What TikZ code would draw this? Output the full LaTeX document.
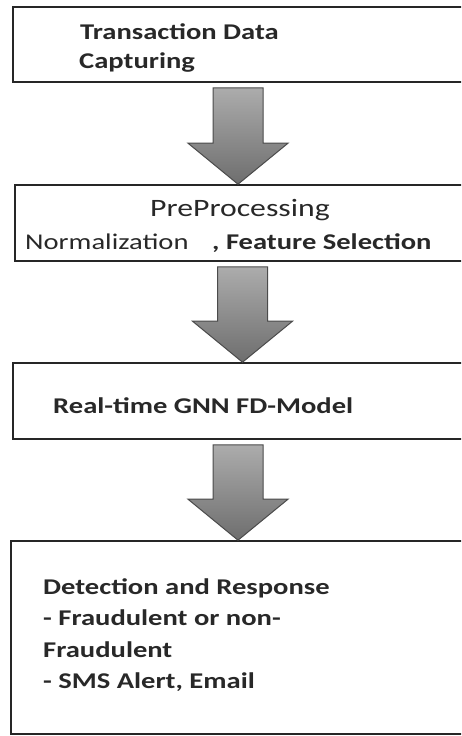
\documentclass[tikz,border=0pt]{standalone}
\usepackage{fontspec}
\setmainfont{Carlito}[FakeStretch=1.27]
\usetikzlibrary{calc}
\definecolor{arrowtop}{RGB}{172,172,172}
\definecolor{arrowbottom}{RGB}{110,110,110}
\definecolor{arrowline}{RGB}{75,75,75}
\definecolor{inktext}{RGB}{40,40,40}

% block arrow from one stage box down to the next (third argument: x shift)
\newcommand{\flowarrow}[3]{%
	\coordinate (top) at ($(#1.south)+(#3,5)$);
	\coordinate (tip) at (top |- #2.north);
	\path[arrowBody] ($(top)+(-25,0)$) -- ($(top)+(25,0)$) -- ($(tip)+(25,-41)$)
		-- ($(tip)+(50,-41)$) -- (tip) -- ($(tip)+(-50,-41)$) -- ($(tip)+(-25,-41)$) -- cycle;
}

\begin{document}
\begin{tikzpicture}[x=1pt, y=-1pt]
	\tikzstyle{stageBox}=[draw=black!85, line width=1.6pt, inner sep=0pt]
	\tikzstyle{stageText}=[anchor=base west, inner sep=0pt, text=inktext, font=\fontsize{22.5}{28}\selectfont\bfseries]
	\tikzstyle{plainText}=[stageText, font=\fontsize{22.5}{28}\selectfont]
	\tikzstyle{arrowBody}=[draw=arrowline, line width=1pt, top color=arrowtop, bottom color=arrowbottom]
	\useasboundingbox (0,0) rectangle (461,736);
	\clip (0,0) rectangle (461,736);
	% stage boxes
	\node[stageBox, minimum width=453pt, minimum height=75pt] (capture) at (239.5,44.5) {};
	\node[stageBox, minimum width=451pt, minimum height=76pt] (preproc) at (240.5,223) {};
	\node[stageBox, minimum width=453pt, minimum height=76pt] (model) at (239.5,401) {};
	\node[stageBox, minimum width=455pt, minimum height=193pt] (detect) at (238.5,637.5) {};
	% texts
	\node[stageText] (captureA) at (80,39) {Transaction Data};
	\node[stageText] (captureB) at (79,68) {Capturing};
	\node[plainText, font=\fontsize{25}{30}\selectfont] (preprocA) at (150,216) {PreProcessing};
	\node[plainText] (preprocB) at (25,249) {Normalization};
	\node[stageText] (preprocC) at (212,249) {, Feature Selection};
	\node[stageText] (modelA) at (53,413) {Real-time GNN FD-Model};
	\node[stageText] (detectA) at (43,594) {Detection and Response};
	\node[stageText] (detectB) at (43,625) {- Fraudulent or non-};
	\node[stageText] (detectC) at (43,657) {Fraudulent};
	\node[stageText] (detectD) at (43,688) {- SMS Alert, Email};
	% arrows
	\flowarrow{capture}{preproc}{-1.5}
	\flowarrow{preproc}{model}{2}
	\flowarrow{model}{detect}{-1.5}
\end{tikzpicture}
\end{document}
